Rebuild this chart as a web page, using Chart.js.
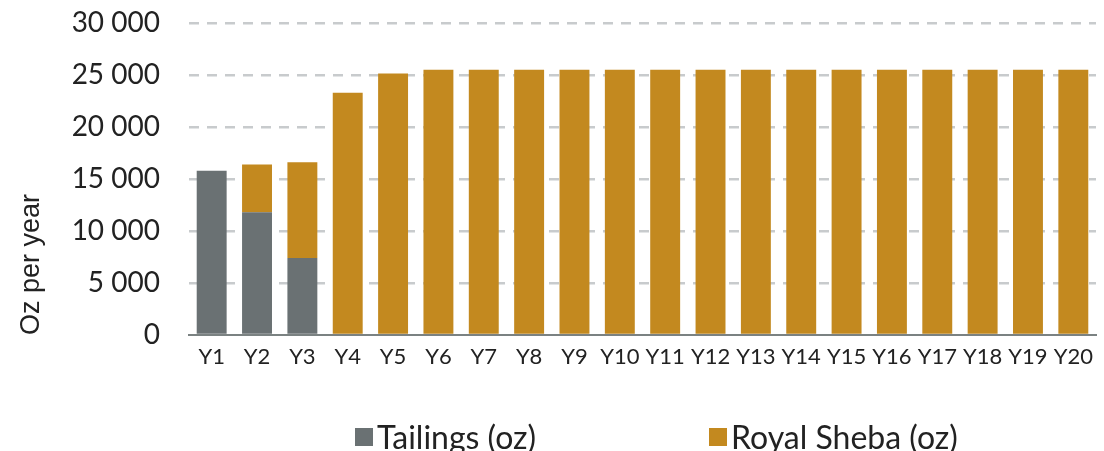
<!DOCTYPE html>
<html>
<head>
<meta charset="utf-8">
<script src="https://cdn.jsdelivr.net/npm/chart.js@4/dist/chart.umd.min.js"></script>
<style>
  html, body { margin: 0; padding: 0; background: #ffffff; }
  #wrap { position: relative; width: 1104px; height: 451px; overflow: hidden; }
  #legend { position: absolute; left: 0; top: 0; width: 1104px; height: 451px; pointer-events: none;
            font-family: Lato, sans-serif; font-size: 32px; color: #222222; }
  .item { position: absolute; top: 418px; height: 38px; line-height: 38px; white-space: nowrap; }
  .box { position: absolute; top: 10px; width: 18px; height: 18px; }
  .lbl { position: absolute; left: 22px; top: 0; }
</style>
</head>
<body>
<div id="wrap">
  <canvas id="c" width="1104" height="451"></canvas>
  <div id="legend"></div>
</div>
<script>
const categories = ['Y1','Y2','Y3','Y4','Y5','Y6','Y7','Y8','Y9','Y10','Y11','Y12','Y13','Y14','Y15','Y16','Y17','Y18','Y19','Y20'];
const tailings = [15800, 11800, 7400, 0, 0, 0, 0, 0, 0, 0, 0, 0, 0, 0, 0, 0, 0, 0, 0, 0];
const royalSheba = [0, 4600, 9200, 23300, 25150, 25500, 25500, 25500, 25500, 25500, 25500, 25500, 25500, 25500, 25500, 25500, 25500, 25500, 25500, 25500];
const yTicks = [0, 5000, 10000, 15000, 20000, 25000, 30000];
const seriesNames = ['Tailings (oz)', 'Royal Sheba (oz)'];
const seriesColors = ['#6a7173', '#c3891f'];

function fmt(v) { return String(v).replace(/\B(?=(\d{3})+(?!\d))/g, ' '); }

const chart = new Chart(document.getElementById('c'), {
  type: 'bar',
  data: {
    labels: categories,
    datasets: [
      { label: seriesNames[0], data: tailings, backgroundColor: seriesColors[0], borderWidth: 0, barPercentage: 0.66, categoryPercentage: 1.0 },
      { label: seriesNames[1], data: royalSheba, backgroundColor: seriesColors[1], borderWidth: 0, barPercentage: 0.66, categoryPercentage: 1.0 }
    ]
  },
  options: {
    responsive: false,
    animation: false,
    devicePixelRatio: 1,
    layout: { padding: { top: 23, right: 8, bottom: 76, left: 0 } },
    plugins: { legend: { display: false }, tooltip: { enabled: false } },
    scales: {
      x: {
        stacked: true,
        offset: true,
        grid: { display: false, drawTicks: false },
        border: { display: true, color: '#7b8282', width: 2 },
        ticks: { color: '#222222', font: { family: 'Lato', size: 22 }, padding: 9, maxRotation: 0, autoSkip: false },
        afterFit: (s) => { s.height = 40; }
      },
      y: {
        stacked: true,
        min: 0,
        max: 30000,
        afterBuildTicks: (s) => { s.ticks = yTicks.map(v => ({ value: v })); },
        grid: {
          drawTicks: false,
          color: (ctx) => (ctx.tick && ctx.tick.value === 0) ? 'rgba(0,0,0,0)' : '#c8cbcd',
          lineWidth: 2.5
        },
        border: { display: false, dash: [10, 8] },
        ticks: { color: '#222222', font: { family: 'Lato', size: 28 }, padding: 29, callback: (v) => fmt(v) },
        title: { display: true, text: 'Oz per year', align: 'start', color: '#222222',
                 font: { family: 'Liberation Sans', size: 27, lineHeight: 1.2 }, padding: { top: 15, bottom: 0 } },
        afterFit: (s) => { s.width = 189; s.paddingTop = 0; s.paddingBottom = 0; }
      }
    }
  }
});

// legend (HTML text)
const legendPos = [355, 709];
const legend = document.getElementById('legend');
seriesNames.forEach((name, i) => {
  const it = document.createElement('div');
  it.className = 'item';
  it.style.left = legendPos[i] + 'px';
  const b = document.createElement('div');
  b.className = 'box';
  b.style.background = seriesColors[i];
  const t = document.createElement('div');
  t.className = 'lbl';
  t.textContent = name;
  it.appendChild(b); it.appendChild(t);
  legend.appendChild(it);
});
</script>
</body>
</html>
